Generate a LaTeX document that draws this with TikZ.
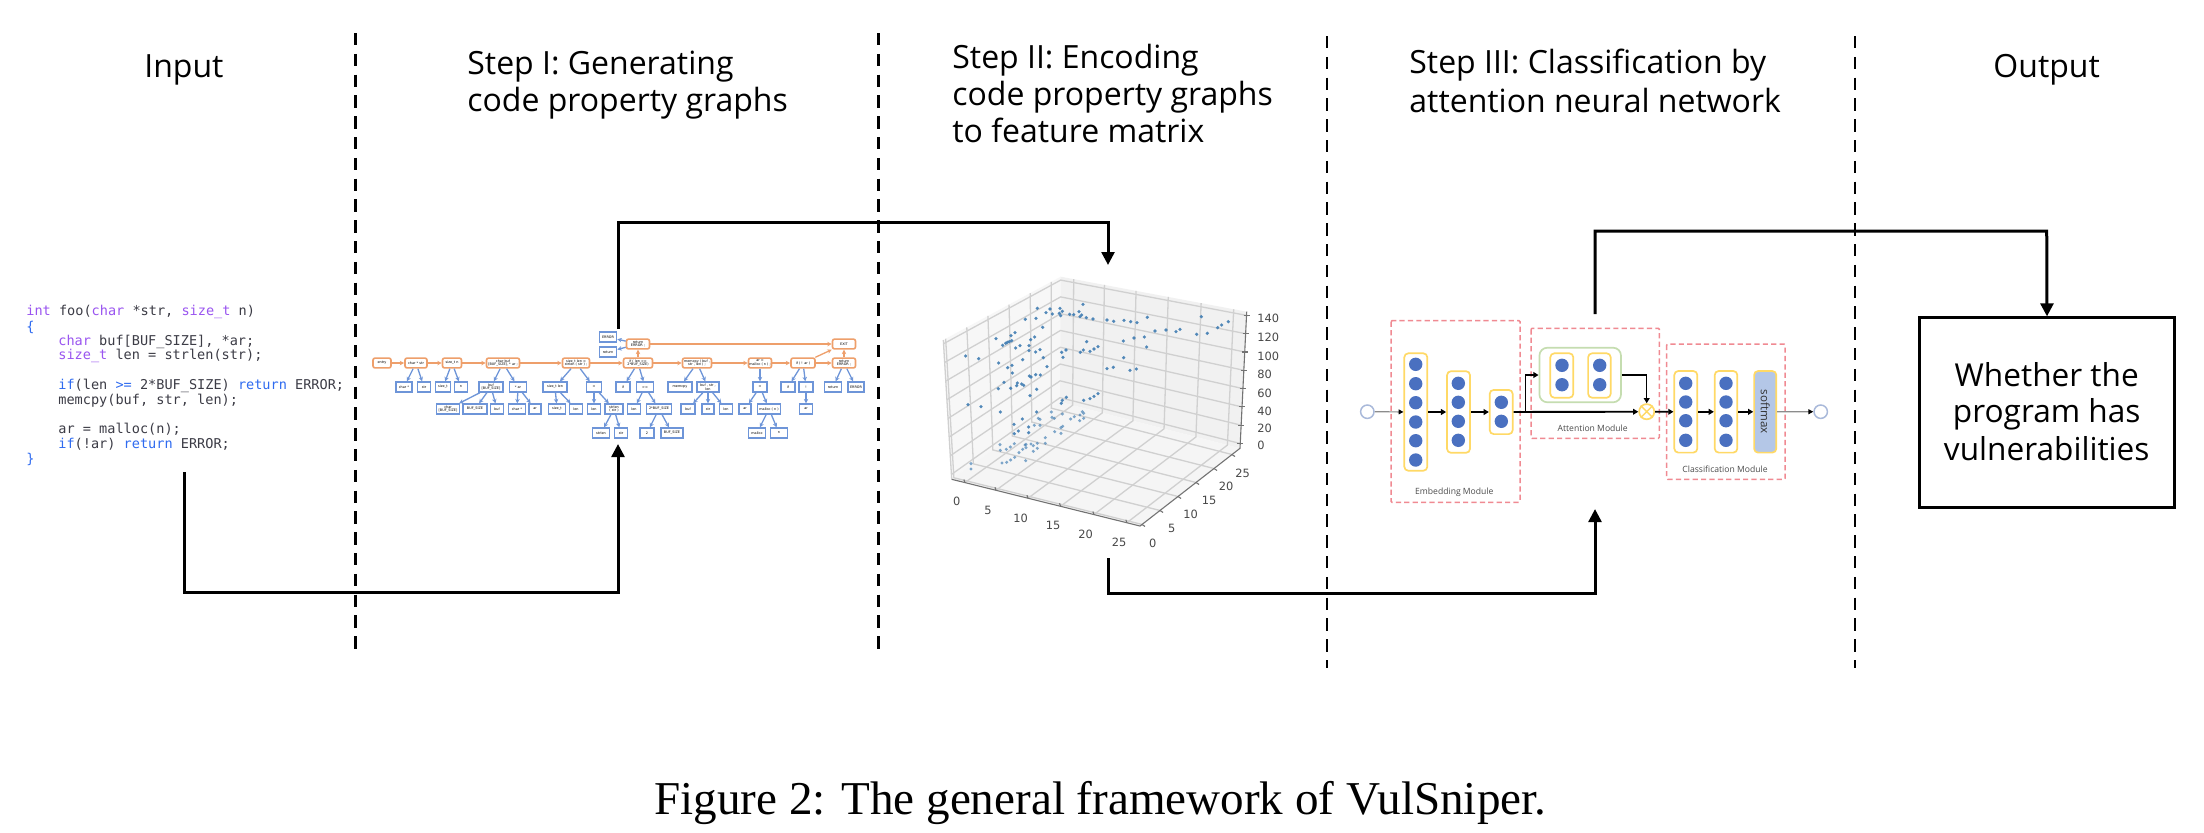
\documentclass[tikz,border=0pt]{standalone}
\usepackage{fontspec}
\usetikzlibrary{arrows.meta,calc}
\setmainfont{Liberation Serif}
\newfontfamily\titlef{Open Sans}
\newfontfamily\codef{DejaVu Sans Mono}
\newfontfamily\plotf{DejaVu Sans}
\definecolor{kwpurple}{HTML}{9A55F0}
\definecolor{kwblue}{HTML}{2F6BF0}
\definecolor{codeink}{HTML}{3C3C46}
\definecolor{onodec}{HTML}{EE9F6B}
\definecolor{bnodec}{HTML}{6E95D8}
\definecolor{dashred}{HTML}{F08A92}
\definecolor{layery}{HTML}{FFD966}
\definecolor{dotblue}{HTML}{4A70C0}
\definecolor{greenb}{HTML}{C5DDB0}
\definecolor{softb}{HTML}{B4C7E7}
\definecolor{ringb}{HTML}{A9B9DA}
\definecolor{gridg}{HTML}{D0D0D0}
\definecolor{scat}{HTML}{3F7CB2}
\newcommand{\tfs}{\titlef\fontsize{16}{19}\selectfont}
\newcommand{\bfs}{\titlef\fontsize{15.8}{19}\selectfont}
\newcommand{\kp}[1]{\textcolor{kwpurple}{#1}}
\newcommand{\kb}[1]{\textcolor{kwblue}{#1}}
\tikzset{
  sep/.style={line width=1.5pt,dash pattern=on 6.2pt off 4.2pt},
  sepb/.style={line width=1.2pt,dash pattern=on 6.2pt off 4.2pt},
  flow/.style={line width=1.5pt,-{Triangle[length=6.5pt,width=6.4pt]}},
  titlet/.style={anchor=base west,inner sep=0pt,font=\tfs},
  codet/.style={anchor=base west,inner sep=0pt,text=codeink,font=\codef\fontsize{6.78}{8}\selectfont},
  onode/.style={draw=onodec,line width=.8pt,rounded corners=1pt,fill=white,inner sep=0pt,minimum height=4.9pt,align=center,font=\plotf\fontsize{1.7}{1.9}\selectfont},
  bnode/.style={draw=bnodec,line width=.8pt,fill=white,inner sep=0pt,minimum height=4.9pt,align=center,font=\plotf\fontsize{1.7}{1.9}\selectfont},
  oarr/.style={draw=onodec,line width=.65pt,-{Stealth[length=2.2pt,width=2.2pt]}},
  barr/.style={draw=bnodec,line width=.65pt,-{Stealth[length=2.2pt,width=2.2pt]}},
  modbox/.style={draw=dashred,line width=.75pt,dash pattern=on 2.6pt off 1.6pt,rounded corners=.5pt},
  layerb/.style={draw=layery,line width=.85pt,rounded corners=2pt,fill=white},
  neuron/.style={circle,fill=dotblue,draw=none,minimum size=6.7pt,inner sep=0pt},
  ring/.style={circle,draw=ringb,fill=white,line width=.75pt,minimum size=6.7pt,inner sep=0pt},
  modlab/.style={text=black!70,inner sep=0pt,font=\titlef\fontsize{4.3}{5}\selectfont},
  nnarr/.style={line width=.95pt,-{Triangle[length=2.6pt,width=2.9pt]}},
  nnthin/.style={draw=black!45,line width=.6pt,-{Triangle[length=2.4pt,width=2.4pt,black]}},
  plotlab/.style={text=black!72,inner sep=0pt,font=\plotf\fontsize{5.7}{6.5}\selectfont},
  axln/.style={draw=black!55,line width=.55pt},
  gridln/.style={draw=gridg,line width=.65pt},
}
\begin{document}
\begin{tikzpicture}[x=.5pt,y=-.5pt]
\useasboundingbox (0,0) rectangle (2204,832);
\fill[white] (0,0) rectangle (2204,832);

% separators
\coordinate (s1a) at (355,33);  \coordinate (s1b) at (355,654);
\coordinate (s2a) at (878,33);  \coordinate (s2b) at (878,654);
\coordinate (s3a) at (1327,36); \coordinate (s3b) at (1327,668);
\coordinate (s4a) at (1855,36); \coordinate (s4b) at (1855,668);
\draw[sep] (s1a) -- (s1b);
\draw[sep] (s2a) -- (s2b);
\draw[sepb] (s3a) -- (s3b);
\draw[sepb] (s4a) -- (s4b);

% titles
\node[titlet] (tin) at (144,77) {Input};
\node[titlet] (t1a) at (467,74) {Step I: Generating};
\node[titlet] (t1b) at (467,111) {code property graphs};
\node[titlet] (t2a) at (952,68) {Step II: Encoding};
\node[titlet] (t2b) at (952,105) {code property graphs};
\node[titlet] (t2c) at (952,142) {to feature matrix};
\node[titlet] (t3a) at (1409,73) {Step III: Classification by};
\node[titlet] (t3b) at (1409,112) {attention neural network};
\node[titlet] (tout) at (1993,77) {Output};

% code
\node[codet] (cl1) at (26,315) {\kp{int} foo(\kp{char} *str, \kp{size\_t} n)};
\node[codet] (cl2) at (26,331) {\kb{\{}};
\node[codet] (cl3) at (58,345) {\kp{char} buf[BUF\_SIZE], *ar;};
\node[codet] (cl4) at (58,359.5) {\kp{size\_t} len = strlen(str);};
\node[codet] (cl5) at (58,389.5) {\kb{if}(len \kb{>=} 2*BUF\_SIZE) \kb{return} ERROR;};
\node[codet] (cl6) at (58,404) {memcpy(buf, str, len);};
\node[codet] (cl7) at (58,433.5) {ar = malloc(n);};
\node[codet] (cl8) at (58,448.5) {\kb{if}(!ar) \kb{return} ERROR;};
\node[codet] (cl9) at (26,463) {\kb{\}}};

% code property graph: orange nodes
\node[onode,minimum width=9pt]  (o1) at (382,363) {entry};
\node[onode,minimum width=11pt] (o2) at (416,363) {char * str};
\node[onode,minimum width=9.5pt](o3) at (452,363) {size\_t n};
\node[onode,minimum width=16.5pt](o4) at (503,363) {char buf\\{}[BUF\_SIZE], * ar ;};
\node[onode,minimum width=13.5pt](o5) at (576,363) {size\_t len =\\strlen ( str ) ;};
\node[onode,minimum width=14.5pt](o6) at (638,363) {if ( len >=\\2*BUF\_SIZE)};
\node[onode,minimum width=11.5pt](o7) at (638,344) {return\\ERROR ;};
\node[onode,minimum width=14.5pt](o8) at (697,363) {memcpy ( buf ,\\str , len ) ;};
\node[onode,minimum width=11.5pt](o9) at (760,363) {ar =\\malloc ( n ) ;};
\node[onode,minimum width=12pt] (o10) at (803,363) {if ( ! ar )};
\node[onode,minimum width=11.5pt](o11) at (844,363) {return\\ERROR ;};
\node[onode,minimum width=11.5pt](o12) at (844,344) {EXIT};
% blue nodes, row 1
\node[bnode,minimum width=8pt] (b1) at (404,387) {char *};
\node[bnode,minimum width=6.5pt](b2) at (424,387) {str};
\node[bnode,minimum width=7.5pt](b3) at (443,387) {size\_t};
\node[bnode,minimum width=6.5pt](b4) at (461,387) {n};
\node[bnode,minimum width=12pt] (b5) at (491,387) {buf\\{}[BUF\_SIZE]};
\node[bnode,minimum width=8.5pt](b6) at (518,387) {* ar};
\node[bnode,minimum width=12pt] (b7) at (555,387) {size\_t len};
\node[bnode,minimum width=7.5pt](b8) at (594,387) {=};
\node[bnode,minimum width=7pt]  (b9) at (623,387) {if};
\node[bnode,minimum width=8.5pt](b10) at (645,387) {>=};
\node[bnode,minimum width=12pt] (b11) at (680,387) {memcpy};
\node[bnode,minimum width=11pt] (b12) at (708,387) {buf , str ,\\len};
\node[bnode,minimum width=7pt]  (b13) at (760,387) {=};
\node[bnode,minimum width=7pt]  (b14) at (788,387) {if};
\node[bnode,minimum width=7pt]  (b15) at (806,387) {!};
\node[bnode,minimum width=8.5pt](b16) at (833,387) {return};
\node[bnode,minimum width=8pt]  (b17) at (856,387) {ERROR};
% row 2
\node[bnode,minimum width=11.5pt](c1) at (448,409) {char\\{}[BUF\_SIZE]};
\node[bnode,minimum width=12pt] (c2) at (475,409) {BUF\_SIZE};
\node[bnode,minimum width=6.5pt](c3) at (497,409) {buf};
\node[bnode,minimum width=8.5pt](c4) at (517,409) {char *};
\node[bnode,minimum width=6pt]  (c5) at (535,409) {ar};
\node[bnode,minimum width=8.5pt](c6) at (557,409) {size\_t};
\node[bnode,minimum width=6.5pt](c7) at (576,409) {len};
\node[bnode,minimum width=6.5pt](c8) at (594,409) {len};
\node[bnode,minimum width=9pt]  (c9) at (614,409) {strlen\\( str )};
\node[bnode,minimum width=6.5pt](c10) at (634,409) {len};
\node[bnode,minimum width=12.5pt](c11) at (659,409) {2*BUF\_SIZE};
\node[bnode,minimum width=7pt]  (c12) at (688,409) {buf};
\node[bnode,minimum width=6pt]  (c13) at (708,409) {str};
\node[bnode,minimum width=6.5pt](c14) at (726,409) {len};
\node[bnode,minimum width=6pt]  (c15) at (745,409) {ar};
\node[bnode,minimum width=11.5pt](c16) at (769,409) {malloc ( n )};
\node[bnode,minimum width=6.5pt](c17) at (806,409) {ar};
% row 3
\node[bnode,minimum width=8.5pt](d1) at (601,433) {strlen};
\node[bnode,minimum width=6.5pt](d2) at (621,433) {str};
\node[bnode,minimum width=7pt]  (d3) at (647,433) {2};
\node[bnode,minimum width=11pt] (d4) at (672,433) {BUF\_SIZE};
\node[bnode,minimum width=8.5pt](d5) at (757,433) {malloc};
\node[bnode,minimum width=8.5pt](d6) at (779,433) {n};
% return/ERROR pair
\node[bnode,minimum width=8.5pt](e1) at (608,337) {ERROR};
\node[bnode,minimum width=8.5pt](e2) at (608,352) {return};

% orange edges
\foreach \p/\q in {o1/o2,o2/o3,o3/o4,o4/o5,o5/o6,o6/o8,o8/o9,o9/o10,o10/o11,o6/o7,o7/o12,o11/o12,o10/o12}
  \draw[oarr] (\p) -- (\q);
% blue edges
\foreach \p/\q in {o2/b1,o2/b2,o3/b3,o3/b4,o4/b5,o4/b6,b5/c1,b5/c2,b5/c3,b6/c4,b6/c5,o5/b7,o5/b8,b7/c6,b7/c7,b8/c8,b8/c9,c9/d1,c9/d2,o7/e1,o7/e2,o6/b9,o6/b10,b10/c10,b10/c11,c11/d3,c11/d4,o8/b11,o8/b12,b12/c12,b12/c13,b12/c14,o9/b13,b13/c15,b13/c16,c16/d5,c16/d6,o10/b14,o10/b15,b15/c17,o11/b16,o11/b17}
  \draw[barr] (\p) -- (\q);

% 3D scatter plot
\coordinate (LT) at (943.3,340);
\coordinate (BT) at (1060.7,276.7);
\coordinate (RT) at (1246.7,311.7);
\coordinate (BB) at (1060,402);
\coordinate (FL) at (951.7,479.3);
\coordinate (FF) at (1140,526);
\coordinate (RB) at (1240,448.3);
\fill[black!3] (LT) -- (BT) -- (BB) -- (FL) -- cycle;
\fill[black!5.5] (BT) -- (RT) -- (RB) -- (BB) -- cycle;
\fill[black!4] (FL) -- (FF) -- (RB) -- (BB) -- cycle;
\foreach \t in {.02,.2,.38,.56,.74,.92}{
  \draw[gridln] ($(LT)!\t!(BT)$) -- ($(FL)!\t!(BB)$) -- ($(FF)!\t!(RB)$);
}
\foreach \t in {.07,.235,.405,.578,.755,.93}{
  \draw[gridln] ($(BT)!\t!(RT)$) -- ($(BB)!\t!(RB)$) -- ($(FL)!\t!(FF)$);
}
\foreach \s in {.035,.169,.303,.437,.571,.705,.839,.973}{
  \draw[gridln] ($(FL)!\s!(LT)$) -- ($(BB)!\s!(BT)$) -- ($(RB)!\s!(RT)$);
}
\draw[gridln] (LT) -- (FL);
\draw[axln] (FL) -- (FF) -- (RB) -- (RT);
\foreach \t in {.07,.235,.405,.578,.755,.93}
  \draw[axln] ($(FL)!\t!(FF)$) -- +(-1,-3);
\foreach \t in {.02,.2,.38,.56,.74,.92}
  \draw[axln] ($(FF)!\t!(RB)$) -- +(3,2);
\foreach \s in {.035,.169,.303,.437,.571,.705,.839,.973}
  \draw[axln] ($(RB)!\s!(RT)$) +(-3,0) -- +(3,0);
\foreach \a/\b in {352/85,390/87,420/85,489/73,378/98,397/102,418/100,427/94,422/107,449/103,461/104,477/95,485/105,480/110,499/113,519/117,561/120,581/124,612/121,632/125,651/128,682/112,844/110,925/125,905/135,893/143,862/160,830/163,780/148,768/155,738/150,705/153,673/171,642/174,610/183,680/201,611/233,649/267,630/271,580/262,561/266,534/200,522/207,510/214,490/210,481/217,500/185,438/210,425/217,429/232,316/118,348/115,368/142,285/158,273/167,344/171,332/179,228/176,275/182,268/185,262/187,257/190,248/196,300/197,287/204,327/197,327/212,347/216,360/209,370/233,381/260,137/228,176/236,236/249,276/256,263/263,308/239,277/279,328/288,333/291,347/284,361/285,252/307,235/326,272/325,292/309,305/312,311/316,290/317,350/328,330/347,144/374,183/380,241/396,307/417,350/396,282/433,295/453,283/461,326/441,326/458,427/361,439/352,424/370,491/361,510/356,522/349,534/341}
  \fill[scat,opacity=.9] (920+\a/3,280+\b/3) circle[radius=.9pt];
\foreach \a/\b in {394/396,396/412,403/415,427/402,452/417,463/410,480/405,487/395,491/400,479/422,491/415,355/415,360/418,360/436,343/436,428/439,423/443,404/455,423/460,376/473,376/490,240/494,241/511,259/508,271/501,283/491,297/518,308/508,315/495,318/493,318/503,333/492,340/497,352/490,352/505,340/514,272/540,284/532,260/547,246/549,317/542,153/551,153/567}
  \fill[scat,opacity=.65] (920+\a/3,280+\b/3) circle[radius=.85pt];
% x tick labels
\node[plotlab] (xl0) at (956.7,501.7) {0};
\node[plotlab] (xl1) at (988,510.7) {5};
\node[plotlab] (xl2) at (1020.7,518.3) {10};
\node[plotlab] (xl3) at (1053,525.7) {15};
\node[plotlab] (xl4) at (1085.7,534) {20};
\node[plotlab] (xl5) at (1119,542.7) {25};
% y tick labels
\node[plotlab] (yl0) at (1152.7,543) {0};
\node[plotlab] (yl1) at (1171.7,528) {5};
\node[plotlab] (yl2) at (1190.7,514) {10};
\node[plotlab] (yl3) at (1209,500.7) {15};
\node[plotlab] (yl4) at (1226,486.7) {20};
\node[plotlab] (yl5) at (1242.7,473.3) {25};
% z tick labels
\foreach \yy/\lab in {318.3/140,337.3/120,356.7/100,374.7/80,393.3/60,411/40,428.3/20,445.7/0}
  \node[plotlab,anchor=west] (zl\lab) at (1257,\yy) {\lab};

% neural network
\draw[modbox] (1391,320.7) rectangle (1520,502.3);
\draw[modbox] (1531,328.3) rectangle (1659.3,438.3);
\draw[modbox] (1666.7,344) rectangle (1785,479.3);
\node[modlab] (mEmb) at (1454.3,492.7) {Embedding Module};
\node[modlab] (mAtt) at (1592.7,428.3) {Attention Module};
\node[modlab] (mCla) at (1725,469.3) {Classification Module};

\node[layerb,minimum width=11.5pt,minimum height=58.7pt,inner sep=0pt] (L1) at (1415.8,412) {};
\node[layerb,minimum width=11.5pt,minimum height=40.8pt,inner sep=0pt] (L2) at (1458.5,412) {};
\node[layerb,minimum width=11.5pt,minimum height=22.1pt,inner sep=0pt] (L3) at (1501.2,412) {};
\node[draw=greenb,line width=.85pt,rounded corners=4pt,fill=white,minimum width=40.8pt,minimum height=27.3pt,inner sep=0pt] (GB) at (1580.2,375) {};
\node[layerb,minimum width=11.5pt,minimum height=22.2pt,inner sep=0pt] (A1) at (1561.8,375.5) {};
\node[layerb,minimum width=11.3pt,minimum height=22.2pt,inner sep=0pt] (A2) at (1599.4,375.5) {};
\node[layerb,minimum width=11.5pt,minimum height=40.8pt,inner sep=0pt] (C1) at (1685.8,411.8) {};
\node[layerb,minimum width=11.3pt,minimum height=40.8pt,inner sep=0pt] (C2) at (1726,411.8) {};
\node[draw=layery,line width=.85pt,rounded corners=2pt,fill=softb,minimum width=11.1pt,minimum height=40.8pt,inner sep=0pt] (SM) at (1765.2,411.8) {};
\node[rotate=-90,inner sep=0pt,text=black!80,font=\titlef\fontsize{5.8}{7}\selectfont] (SMt) at (SM) {softmax};
\foreach \yy [count=\i] in {364.3,383.7,402.7,422,440.7,460}
  \node[neuron] (n1\i) at (1415.7,\yy) {};
\foreach \yy [count=\i] in {383.3,402.3,421.3,440.3}
  \node[neuron] (n2\i) at (1458.3,\yy) {};
\foreach \yy [count=\i] in {402.3,421.3}
  \node[neuron] (n3\i) at (1501.3,\yy) {};
\foreach \yy [count=\i] in {365.3,384.7}{
  \node[neuron] (a1\i) at (1562,\yy) {};
  \node[neuron] (a2\i) at (1599.7,\yy) {};
}
\foreach \yy [count=\i] in {383.3,402,420.7,440.3}{
  \node[neuron] (c1\i) at (1685.7,\yy) {};
  \node[neuron] (c2\i) at (1726,\yy) {};
}
\node[ring] (rin) at (1367.3,411.7) {};
\node[ring] (rout) at (1820.7,411.7) {};
\node[circle,draw=layery,line width=.85pt,fill=white,minimum size=7.6pt,inner sep=0pt] (ot) at (1646.7,411.7) {};
\draw[layery,line width=.7pt] (ot.45) -- (ot.225) (ot.135) -- (ot.315);

\coordinate (br) at (1525.3,411.7);
\coordinate (brt) at (1525.3,375);
\draw[nnthin] (rin) -- (L1);
\draw[nnarr] (L1) -- (L2);
\draw[nnarr] (L2) -- (L3);
\draw[nnarr] (L3) -- (ot);
\draw[nnarr,line width=.75pt] (br) -- (brt) -- (GB.west |- brt);
\draw[nnarr,line width=.75pt] (GB.east |- brt) -| (ot);
\draw[nnarr] (ot) -- (C1);
\draw[nnarr] (C1) -- (C2);
\draw[nnarr] (C2) -- (SM);
\draw[nnthin] (SM) -- (rout);

% output box
\node[draw=black,line width=1.5pt,fill=white,minimum width=127.5pt,minimum height=94.6pt,inner sep=0pt] (box) at (2047,412.5) {};
\node[anchor=base,inner sep=0pt,font=\bfs] (w1) at (2046.7,386) {Whether the};
\node[anchor=base,inner sep=0pt,font=\bfs] (w2) at (2046.7,422) {program has};
\node[anchor=base,inner sep=0pt,font=\bfs] (w3) at (2046.7,460) {vulnerabilities};

% main flow connectors
\coordinate (f1s) at (184,472);
\coordinate (f1m) at (618,592);
\coordinate (f1e) at (618,444);
\coordinate (f2s) at (618,329);
\coordinate (f2m) at (1108,222);
\coordinate (f2e) at (1108,265);
\coordinate (f3s) at (1108,558);
\coordinate (f3m) at (1595,593);
\coordinate (f3e) at (1595,509);
\coordinate (f4s) at (1595,314);
\coordinate (f4m) at (2046.7,231);
\draw[flow] (f1s) |- (f1m) -- (f1e);
\draw[flow] (f2s) |- (f2m) -- (f2e);
\draw[flow] (f3s) |- (f3m) -- (f3e);
\draw[flow] (f4s) |- (f4m) -- (box.north);

% caption
\node[anchor=base west,inner sep=0pt,font=\fontsize{23.55}{27}\selectfont] (cap) at (654,814) {Figure 2: The general framework of VulSniper.};
\end{tikzpicture}
\end{document}
